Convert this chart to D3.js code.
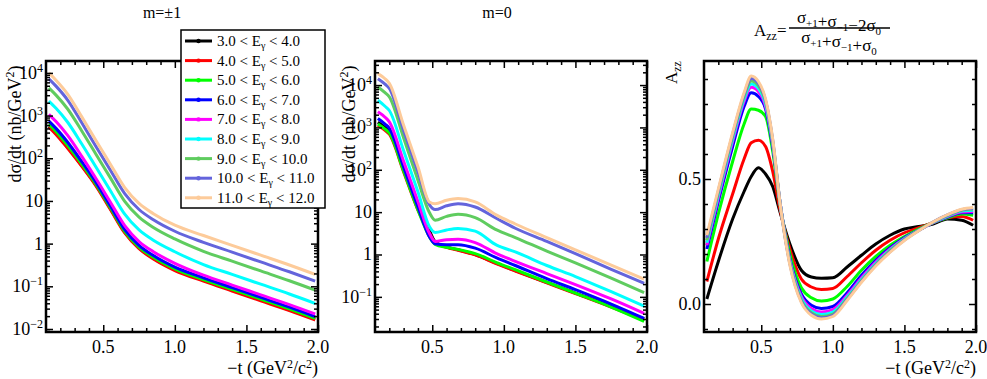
<!DOCTYPE html>
<html>
<head>
<meta charset="utf-8">
<script src="https://cdn.jsdelivr.net/npm/d3@7"></script>
<style>
  body { margin: 0; background: #fff; }
  text { font-family: "Liberation Serif", "Times New Roman", "DejaVu Serif", serif; fill: #000; }
</style>
</head>
<body>
<svg id="chart" width="987" height="379"></svg>
<script>
// photon energy bins and their colours
const binEdges = [["3.0", "4.0"], ["4.0", "5.0"], ["5.0", "6.0"], ["6.0", "7.0"], ["7.0", "8.0"],
                  ["8.0", "9.0"], ["9.0", "10.0"], ["10.0", "11.0"], ["11.0", "12.0"]];
const binColors = ["#000000", "#ff0000", "#00ff00", "#0000ff", "#ff00ff",
                   "#00ffff", "#5fcc5f", "#6464dc", "#fdcb9a"];

// m = ±1 cross section (nb/GeV^2)
const tPM1 = [0.12, 0.17, 0.25, 0.35, 0.45, 0.55, 0.65, 0.75, 0.85, 1.0, 1.2, 1.4, 1.6, 1.8, 1.98];
const sigmaPM1 = [
  [562, 380, 182, 67.6, 23.4, 6.61, 1.86, 0.794, 0.457, 0.245, 0.138, 0.0813, 0.0479, 0.0282, 0.0170],
  [537, 363, 173, 64.5, 22.3, 6.31, 1.78, 0.758, 0.436, 0.234, 0.132, 0.0776, 0.0457, 0.0269, 0.0162],
  [630, 426, 204, 73.3, 24.5, 6.92, 1.95, 0.831, 0.478, 0.257, 0.144, 0.0851, 0.0502, 0.0295, 0.0178],
  [741, 501, 240, 83.1, 26.9, 7.59, 2.14, 0.912, 0.525, 0.281, 0.158, 0.0933, 0.055, 0.0324, 0.0195],
  [1071, 724, 347, 111, 33.1, 9.34, 2.63, 1.12, 0.646, 0.346, 0.182, 0.107, 0.0631, 0.0372, 0.0224],
  [2186, 1478, 708, 216, 61.5, 17.4, 4.89, 2.09, 1.20, 0.644, 0.323, 0.190, 0.112, 0.066, 0.0398],
  [4462, 3017, 1446, 437, 123, 34.7, 9.77, 4.17, 2.40, 1.29, 0.661, 0.389, 0.229, 0.135, 0.0814],
  [7250, 4900, 2344, 676, 186, 52.5, 14.8, 6.30, 3.63, 1.95, 1.07, 0.631, 0.372, 0.219, 0.132],
  [10000, 6760, 3240, 933, 257, 72.7, 20.5, 8.73, 5.03, 2.70, 1.55, 0.91, 0.536, 0.316, 0.19]
];

// m = 0 cross section (nb/GeV^2)
const tM0 = [0.12, 0.17, 0.2, 0.3, 0.4, 0.48, 0.52, 0.6, 0.68, 0.8, 0.95, 1.08, 1.3, 1.5, 1.75, 1.98];
const sigmaM0 = [
  [1318, 1000, 813, 107, 13.5, 3.63, 2.0, 1.51, 1.29, 1.0, 0.617, 0.417, 0.219, 0.123, 0.0603, 0.0302],
  [1122, 851, 692, 89.1, 11.2, 3.16, 1.91, 1.48, 1.26, 0.977, 0.603, 0.407, 0.214, 0.120, 0.0575, 0.0282],
  [1200, 912, 741, 93.3, 11.2, 2.63, 1.74, 1.48, 1.32, 1.05, 0.646, 0.437, 0.224, 0.123, 0.0575, 0.0263],
  [1620, 1200, 955, 115, 13.2, 2.63, 1.78, 1.70, 1.70, 1.41, 0.832, 0.550, 0.269, 0.148, 0.0676, 0.0309],
  [2340, 1740, 1350, 158, 17.8, 3.16, 2.04, 2.24, 2.29, 1.91, 1.05, 0.692, 0.355, 0.195, 0.0891, 0.0407],
  [4370, 3160, 2510, 282, 30.2, 4.57, 3.31, 3.80, 4.12, 3.55, 1.66, 1.15, 0.550, 0.302, 0.132, 0.0603],
  [9020, 6610, 5250, 562, 56.2, 9.77, 6.46, 7.94, 8.91, 7.41, 3.80, 2.51, 1.20, 0.631, 0.275, 0.126],
  [14100, 10500, 8320, 851, 89.1, 15.1, 11.5, 14.1, 15.8, 13.2, 7.08, 4.17, 2.04, 1.05, 0.447, 0.209],
  [18600, 14100, 11000, 1122, 117.5, 17.4, 15.8, 19.1, 20.9, 17.4, 8.51, 5.25, 2.51, 1.29, 0.562, 0.263]
];

// tensor asymmetry A_zz
const tAzz = [0.12, 0.2, 0.3, 0.38, 0.43, 0.48, 0.53, 0.58, 0.63, 0.7, 0.78, 0.85, 0.92, 1.0,
              1.1, 1.2, 1.3, 1.4, 1.5, 1.6, 1.7, 1.8, 1.9, 1.98];
const azz = [
  [0.02, 0.17, 0.34, 0.45, 0.51, 0.545, 0.52, 0.47, 0.37, 0.24, 0.135, 0.108, 0.103, 0.105, 0.148, 0.195, 0.24, 0.275, 0.30, 0.31, 0.32, 0.34, 0.335, 0.315],
  [0.09, 0.26, 0.44, 0.58, 0.645, 0.655, 0.63, 0.53, 0.38, 0.22, 0.10, 0.068, 0.058, 0.062, 0.11, 0.165, 0.215, 0.255, 0.285, 0.305, 0.325, 0.345, 0.35, 0.335],
  [0.17, 0.36, 0.57, 0.72, 0.78, 0.775, 0.75, 0.61, 0.40, 0.20, 0.065, 0.025, 0.012, 0.02, 0.07, 0.135, 0.19, 0.235, 0.27, 0.30, 0.325, 0.345, 0.36, 0.355],
  [0.22, 0.41, 0.63, 0.79, 0.845, 0.83, 0.78, 0.63, 0.41, 0.18, 0.04, -0.005, -0.018, -0.01, 0.045, 0.115, 0.175, 0.225, 0.265, 0.295, 0.325, 0.348, 0.365, 0.365],
  [0.235, 0.425, 0.65, 0.81, 0.867, 0.85, 0.79, 0.64, 0.41, 0.175, 0.03, -0.018, -0.032, -0.022, 0.035, 0.105, 0.168, 0.22, 0.262, 0.295, 0.325, 0.35, 0.368, 0.37],
  [0.245, 0.435, 0.66, 0.82, 0.88, 0.862, 0.80, 0.645, 0.41, 0.17, 0.022, -0.028, -0.042, -0.032, 0.028, 0.098, 0.162, 0.216, 0.26, 0.295, 0.326, 0.352, 0.372, 0.375],
  [0.255, 0.445, 0.67, 0.83, 0.892, 0.873, 0.81, 0.65, 0.41, 0.165, 0.015, -0.035, -0.05, -0.04, 0.022, 0.093, 0.158, 0.213, 0.258, 0.295, 0.327, 0.354, 0.375, 0.38],
  [0.265, 0.452, 0.678, 0.838, 0.902, 0.882, 0.815, 0.655, 0.41, 0.16, 0.01, -0.04, -0.055, -0.045, 0.018, 0.09, 0.155, 0.21, 0.256, 0.294, 0.328, 0.356, 0.377, 0.383],
  [0.275, 0.46, 0.685, 0.845, 0.912, 0.89, 0.82, 0.66, 0.41, 0.155, 0.005, -0.045, -0.06, -0.05, 0.014, 0.087, 0.152, 0.207, 0.254, 0.293, 0.328, 0.357, 0.379, 0.386]
];

const xMajor = [0.5, 1.0, 1.5, 2.0];
const xMinor = [0.2, 0.3, 0.4, 0.6, 0.7, 0.8, 0.9, 1.1, 1.2, 1.3, 1.4, 1.6, 1.7, 1.8, 1.9];

const svg = d3.select("#chart");
const plotTop = 61, plotBottom = 332;

function logLabel(sel, d) {
  const e = Math.round(Math.log10(d));
  sel.text("");
  if (e === 0) { sel.text("1"); return; }
  if (e === 1) { sel.text("10"); return; }
  sel.append("tspan").text("10");
  sel.append("tspan").attr("dy", -7).attr("font-size", 12).text(e < 0 ? "\u2212" + (-e) : e);
}

function drawPanel(left, right, y, isLog, yMajor, yMinor, tGrid, series, id) {
  const x = d3.scaleLinear().domain([0.1, 2.0]).range([left, right]);
  const g = svg.append("g");

  g.append("clipPath").attr("id", id)
    .append("rect").attr("x", left).attr("y", plotTop).attr("width", right - left).attr("height", plotBottom - plotTop);

  const line = d3.line()
    .x((d, i) => x(tGrid[i]))
    .y((d) => y(d))
    .curve(d3.curveMonotoneX);

  g.append("g").attr("clip-path", `url(#${id})`)
    .selectAll("path")
    .data(series)
    .join("path")
    .attr("d", line)
    .attr("fill", "none")
    .attr("stroke", (d, i) => binColors[i])
    .attr("stroke-width", 3)
    .attr("stroke-linejoin", "round");

  // inward ticks on all four sides
  const axes = [
    [d3.axisBottom(x), plotBottom, "x"], [d3.axisTop(x), plotTop, "x"],
    [d3.axisLeft(y), left, "y"], [d3.axisRight(y), right, "y"]
  ];
  axes.forEach(([ax, pos, dir]) => {
    const major = dir === "x" ? xMajor : yMajor;
    const minor = dir === "x" ? xMinor : yMinor;
    const tr = dir === "x" ? `translate(0,${pos})` : `translate(${pos},0)`;
    [[major, 7], [minor, 4]].forEach(([vals, len]) => {
      const a = g.append("g").attr("transform", tr)
        .call(ax.tickValues(vals).tickSize(-len).tickSizeOuter(0).tickFormat(""));
      a.select(".domain").remove();
      a.selectAll("line").attr("stroke", "#000").attr("stroke-width", 1.5);
      a.selectAll("text").remove();
    });
  });

  // tick labels
  g.selectAll(null).data(xMajor).join("text")
    .attr("x", (d) => x(d)).attr("y", 353)
    .attr("text-anchor", "middle").attr("font-size", 18)
    .text((d) => d3.format(".1f")(d));

  g.selectAll(null).data(yMajor).join("text")
    .attr("x", left - 3).attr("y", (d) => y(d) + 6)
    .attr("text-anchor", "end").attr("font-size", 18)
    .each(function (d) {
      if (isLog) logLabel(d3.select(this), d);
      else d3.select(this).text(d3.format(".1f")(d));
    });

  g.append("rect")
    .attr("x", left).attr("y", plotTop).attr("width", right - left).attr("height", plotBottom - plotTop)
    .attr("fill", "none").attr("stroke", "#000").attr("stroke-width", 2.5);

  return g;
}

function logMinors(lo, hi) {
  const out = [];
  for (let e = lo; e <= hi; e++) for (let k = 2; k <= 9; k++) out.push(k * Math.pow(10, e));
  return out;
}

function sigmaTitle(bx) {
  const t = svg.append("text")
    .attr("transform", `translate(${bx},124) rotate(-90)`)
    .attr("text-anchor", "middle").attr("font-size", 18);
  t.append("tspan").text("d\u03c3/dt  (nb/GeV");
  t.append("tspan").attr("dy", -7).attr("font-size", 12).text("2");
  t.append("tspan").attr("dy", 7).text(")");
}

function tTitle(xr) {
  const t = svg.append("text")
    .attr("x", xr).attr("y", 374)
    .attr("text-anchor", "end").attr("font-size", 18);
  t.append("tspan").text("\u2212t  (GeV");
  t.append("tspan").attr("dy", -6).attr("font-size", 12).text("2");
  t.append("tspan").attr("dy", 6).text("/c");
  t.append("tspan").attr("dy", -6).attr("font-size", 12).text("2");
  t.append("tspan").attr("dy", 6).text(")");
}

// panel 1: m = ±1
const y1 = d3.scaleLog().domain([0.0085, 19000]).range([plotBottom, plotTop]);
drawPanel(46, 318, y1, true, [1e-2, 1e-1, 1, 10, 1e2, 1e3, 1e4], logMinors(-3, 4).filter((v) => v > 0.0085 && v < 19000),
  tPM1, sigmaPM1, "clipA");
sigmaTitle(21);
tTitle(318);
svg.append("text").attr("x", 162).attr("y", 18).attr("text-anchor", "middle").attr("font-size", 16).text("m=\u00b11");

// panel 2: m = 0
const y2 = d3.scaleLog().domain([0.0148, 37000]).range([plotBottom, plotTop]);
drawPanel(375, 647, y2, true, [1e-1, 1, 10, 1e2, 1e3, 1e4], logMinors(-2, 4).filter((v) => v > 0.0148 && v < 37000),
  tM0, sigmaM0, "clipB");
sigmaTitle(355);
svg.append("text").attr("x", 497).attr("y", 18).attr("text-anchor", "middle").attr("font-size", 16).text("m=0");

// panel 3: A_zz
const y3 = d3.scaleLinear().domain([-0.112, 0.972]).range([plotBottom, plotTop]);
drawPanel(704, 976, y3, false, [0.0, 0.5], [-0.1, 0.1, 0.2, 0.3, 0.4, 0.6, 0.7, 0.8, 0.9],
  tAzz, azz, "clipC");
tTitle(976);

const azzLab = svg.append("text")
  .attr("transform", "translate(677,84) rotate(-90)")
  .attr("font-size", 17);
azzLab.append("tspan").text("A");
azzLab.append("tspan").attr("dy", 4).attr("font-size", 12).text("zz");

// A_zz definition above panel 3
const head = svg.append("g");
const aT = head.append("text").attr("x", 754).attr("y", 36).attr("font-size", 17);
aT.append("tspan").text("A");
aT.append("tspan").attr("dy", 4).attr("font-size", 12).text("zz");
aT.append("tspan").attr("dy", -4).text("=");

function sigmaRow(yb, parts) {
  const t = head.append("text").attr("x", 839).attr("y", yb).attr("text-anchor", "middle").attr("font-size", 17);
  parts.forEach(([main, sub]) => {
    t.append("tspan").text(main);
    t.append("tspan").attr("dy", 4).attr("font-size", 11).text(sub);
    t.append("tspan").attr("dy", -4).attr("font-size", 17).text("");
  });
}
sigmaRow(23, [["\u03c3", "+1"], ["+\u03c3", "\u22121"], ["\u22122\u03c3", "0"]]);
head.append("line").attr("x1", 789).attr("x2", 890).attr("y1", 28).attr("y2", 28)
  .attr("stroke", "#000").attr("stroke-width", 1.3);
sigmaRow(43, [["\u03c3", "+1"], ["+\u03c3", "\u22121"], ["+\u03c3", "0"]]);

// legend
const legend = svg.append("g");
legend.append("rect")
  .attr("x", 181).attr("y", 30).attr("width", 144).attr("height", 178)
  .attr("fill", "#fff").attr("stroke", "#000").attr("stroke-width", 1.5);

const row = legend.selectAll("g.row")
  .data(binEdges)
  .join("g")
  .attr("class", "row")
  .attr("transform", (d, i) => `translate(0,${41 + i * 19.6})`);

row.append("line")
  .attr("x1", 185).attr("x2", 212)
  .attr("stroke", (d, i) => binColors[i]).attr("stroke-width", 3);
row.append("circle")
  .attr("cx", 198.5).attr("r", 2.2)
  .attr("fill", (d, i) => binColors[i]);

const lt = row.append("text").attr("x", 217).attr("y", 5).attr("font-size", 15);
lt.append("tspan").text((d) => `${d[0]} < E`);
lt.append("tspan").attr("dy", 3).attr("font-size", 10).text("\u03b3");
lt.append("tspan").attr("dy", -3).text((d) => ` < ${d[1]}`);
</script>
</body>
</html>
